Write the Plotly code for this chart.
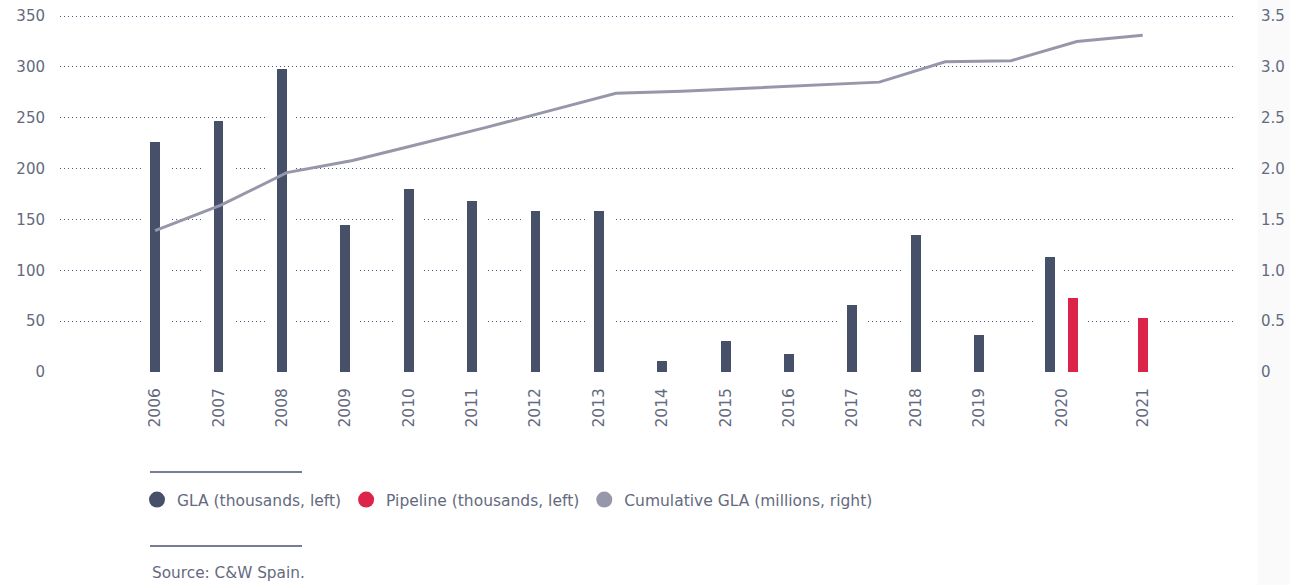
import numpy as np
import plotly.graph_objects as go

# Shopping-centre supply in Spain, 2006-2021
years = [2006, 2007, 2008, 2009, 2010, 2011, 2012, 2013,
         2014, 2015, 2016, 2017, 2018, 2019, 2020, 2021]
gla_thousands = [226, 247, 298, 145, 180, 168, 158, 158,
                 11, 30, 18, 66, 135, 36, 113, None]
pipeline_thousands = [None] * 14 + [73, 53]
cumulative_millions = [1.39, 1.64, 1.96, 2.08, 2.24, 2.40, 2.57, 2.74,
                       2.76, 2.79, 2.82, 2.85, 3.05, 3.06, 3.25, 3.31]

C_GLA = "#475069"
C_PIPE = "#dc244b"
C_CUM = "#9797aa"
C_TXT = "#646a7e"
C_GRID = "#4c5678"
FONT = "'DejaVu Sans', sans-serif"

# x slots: one per year up to 2019, then a wider spacing for the last two years
n_hist = 14
label_x = list(range(n_hist)) + [n_hist - 1 + 1.30, n_hist - 1 + 2.58]
pair_offset = 0.18
gla_x, pipe_x = [], []
for i, (g, p) in enumerate(zip(gla_thousands, pipeline_thousands)):
    both = g is not None and p is not None
    gla_x.append(label_x[i] - pair_offset if both else label_x[i])
    pipe_x.append(label_x[i] + pair_offset if both else label_x[i])
line_x = np.linspace(label_x[0], label_x[-1], len(years))

bar_w = 0.155
halo_w = 0.38

fig = go.Figure()

# white halos that break the dotted grid around each column
for xs, vals in ((gla_x, gla_thousands), (pipe_x, pipeline_thousands)):
    fig.add_trace(go.Bar(
        x=xs, y=vals, width=halo_w, marker=dict(color="white", line=dict(color="white", width=4)),
        showlegend=False, hoverinfo="skip"))

fig.add_trace(go.Bar(x=gla_x, y=gla_thousands, width=bar_w,
                     marker=dict(color=C_GLA, line=dict(width=0)),
                     name="GLA (thousands, left)", showlegend=False))
fig.add_trace(go.Bar(x=pipe_x, y=pipeline_thousands, width=bar_w,
                     marker=dict(color=C_PIPE, line=dict(width=0)),
                     name="Pipeline (thousands, left)", showlegend=False))
fig.add_trace(go.Scatter(x=line_x, y=cumulative_millions, yaxis="y2", mode="lines",
                         line=dict(color=C_CUM, width=3),
                         name="Cumulative GLA (millions, right)", showlegend=False))

# legend entries drawn as round markers
for name, col in (("GLA (thousands, left)", C_GLA),
                  ("Pipeline (thousands, left)", C_PIPE),
                  ("Cumulative GLA (millions, right)", C_CUM)):
    fig.add_trace(go.Scatter(x=[None], y=[None], mode="markers", name=name,
                             marker=dict(color=col, size=16, symbol="circle")))

W, H = 1290, 585
m_l, m_r, m_t, m_b = 60, 56, 15, 213
pw, ph = W - m_l - m_r, H - m_t - m_b


def px_x(x):
    return (x - m_l) / pw


def px_y(y):
    return (H - m_b - y) / ph


right_ticks = [0, 0.5, 1.0, 1.5, 2.0, 2.5, 3.0, 3.5]
grid_dash = "1px,3px"

fig.update_layout(
    width=W, height=H,
    margin=dict(l=m_l, r=m_r, t=m_t, b=m_b, autoexpand=False),
    paper_bgcolor="white", plot_bgcolor="white",
    barmode="overlay", bargap=0,
    font=dict(family=FONT, color=C_TXT, size=14),
    xaxis=dict(range=[-1.5, 17.02], tickvals=label_x, ticktext=[str(y) for y in years],
               tickangle=-90, showgrid=False, zeroline=False, showline=False, automargin=False,
               ticks="", tickfont=dict(size=15.5, color=C_TXT), ticklabelstandoff=12),
    # the top of the range sits just above 350 so its grid line is drawn
    yaxis=dict(range=[0, 351], dtick=50, showgrid=True, gridcolor=C_GRID, gridwidth=1,
               griddash=grid_dash, zeroline=True, zerolinecolor="white", showline=False,
               automargin=False,
               ticks="", tickfont=dict(size=15, color=C_TXT), ticklabelstandoff=14),
    yaxis2=dict(range=[0, 3.51], overlaying="y", side="right", tickvals=right_ticks,
                ticktext=["0"] + [f"{v:.1f}" for v in right_ticks[1:]],
                showgrid=False, zeroline=False, showline=False, ticks="", automargin=False,
                tickfont=dict(size=15, color=C_TXT), ticklabelstandoff=26),
    legend=dict(orientation="h", x=px_x(137), xanchor="left", y=px_y(500), yanchor="middle",
                font=dict(size=15.5, color=C_TXT), bgcolor="rgba(0,0,0,0)",
                itemclick=False, itemdoubleclick=False),
    showlegend=True,
)

# faint panel strip on the right edge
fig.add_shape(type="rect", xref="paper", yref="paper",
              x0=px_x(1258), x1=px_x(W), y0=px_y(H), y1=px_y(0),
              fillcolor="#fafafb", line=dict(width=0), layer="below")

# rules above the legend and above the source note
for yy in (472, 546):
    fig.add_shape(type="line", xref="paper", yref="paper",
                  x0=px_x(150), x1=px_x(302), y0=px_y(yy), y1=px_y(yy),
                  line=dict(color="#4a5370", width=1.5))

fig.add_annotation(text="Source: C&W Spain.", xref="paper", yref="paper",
                   x=px_x(150), y=px_y(573), xanchor="left", yanchor="middle",
                   showarrow=False, font=dict(size=15.3, color=C_TXT))

fig.write_html("out.html")
